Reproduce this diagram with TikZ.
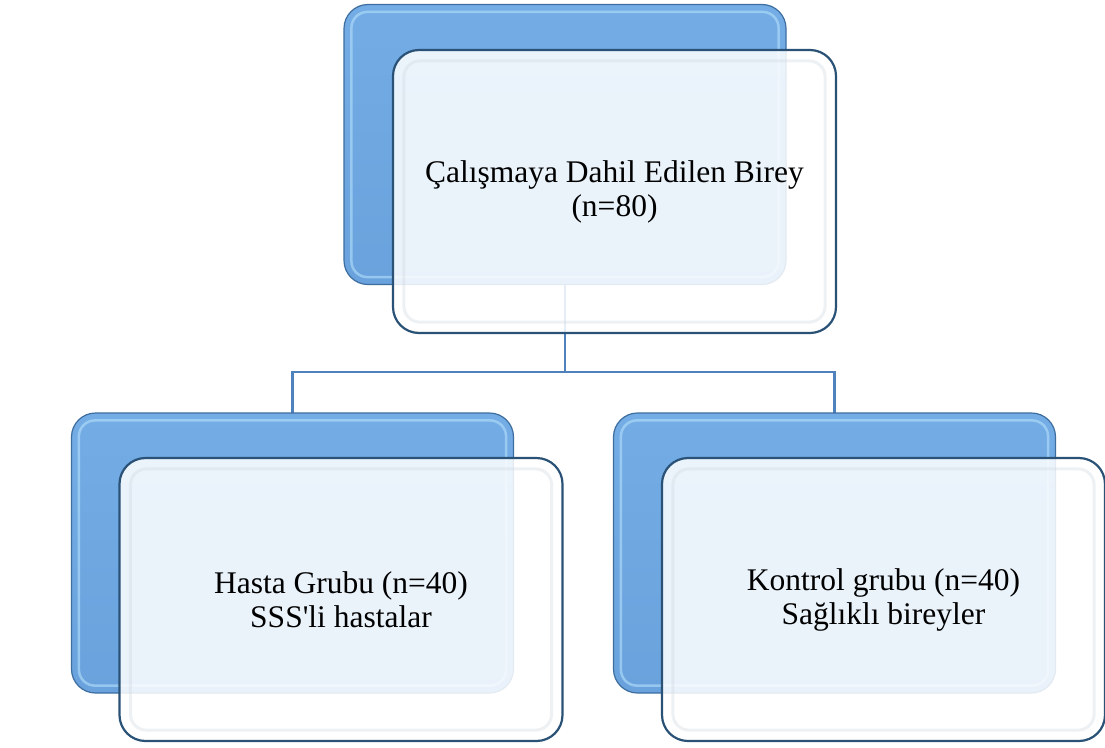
\documentclass[tikz,border=0pt]{standalone}
\usepackage{fontspec}
\setmainfont{Liberation Serif}
\usetikzlibrary{calc}
\definecolor{backtop}{HTML}{74ACE5}
\definecolor{backbot}{HTML}{6AA2DD}
\definecolor{backedge}{HTML}{3D6E9F}
\definecolor{backhi}{HTML}{B4E0FA}
\definecolor{frontedge}{HTML}{2A5276}
\definecolor{frontin}{HTML}{D0D7DF}
\definecolor{linkblue}{HTML}{4F81BD}
\tikzset{
  backbox/.style={draw=backedge, line width=1.2pt, rounded corners=24pt,
    top color=backtop, bottom color=backbot, inner sep=0pt,
    minimum width=442pt, minimum height=280pt},
  fronthi/.style={draw=frontin, line width=3pt, rounded corners=16pt, draw opacity=0.35},
  backhl/.style={draw=backhi, line width=2.5pt, rounded corners=16pt, draw opacity=0.6},
  frontbox/.style={draw=frontedge, line width=2.2pt, rounded corners=26pt,
    fill=white, fill opacity=0.86, draw opacity=1, text opacity=1, inner sep=0pt,
    minimum width=443pt, minimum height=283pt, align=center,
    font=\fontsize{31.5}{34}\selectfont},
  link/.style={draw=linkblue, line width=2.4pt}
}
\begin{document}
\begin{tikzpicture}[x=1pt,y=-1pt]
\useasboundingbox (0,0) rectangle (1105,747);
\fill[white] (0,0) rectangle (1105,747);
% connectors (behind the boxes)
\coordinate (topc) at (565,200);
\coordinate (lc) at (292.5,553);
\coordinate (rc) at (834.5,553);
\coordinate (bus) at (565,372);
\draw[link] (topc) -- (bus) -| (lc);
\draw[link] (bus) -| (rc);
% top group
\node[backbox] (topback) at (565,144.5) {};
\draw[backhl] ($(topback.south west)+(8,-8)$) rectangle ($(topback.north east)+(-8,8)$);
\node[frontbox] (top) at (614.5,191.5) {Çalışmaya Dahil Edilen Birey\\(n=80)};
\draw[fronthi] ($(top.south west)+(12,-12)$) rectangle ($(top.north east)+(-12,12)$);
% left group
\node[backbox] (leftback) at (292.5,553) {};
\draw[backhl] ($(leftback.south west)+(8,-8)$) rectangle ($(leftback.north east)+(-8,8)$);
\node[frontbox] (left) at (341,599.5) {Hasta Grubu (n=40)\\SSS\textquotesingle li hastalar};
\draw[fronthi] ($(left.south west)+(12,-12)$) rectangle ($(left.north east)+(-12,12)$);
% right group
\node[backbox] (rightback) at (834.5,553) {};
\draw[backhl] ($(rightback.south west)+(8,-8)$) rectangle ($(rightback.north east)+(-8,8)$);
\node[frontbox] (right) at (883.5,599.5) {Kontrol grubu (n=40)\\Sağlıklı bireyler};
\draw[fronthi] ($(right.south west)+(12,-12)$) rectangle ($(right.north east)+(-12,12)$);
\end{tikzpicture}
\end{document}
